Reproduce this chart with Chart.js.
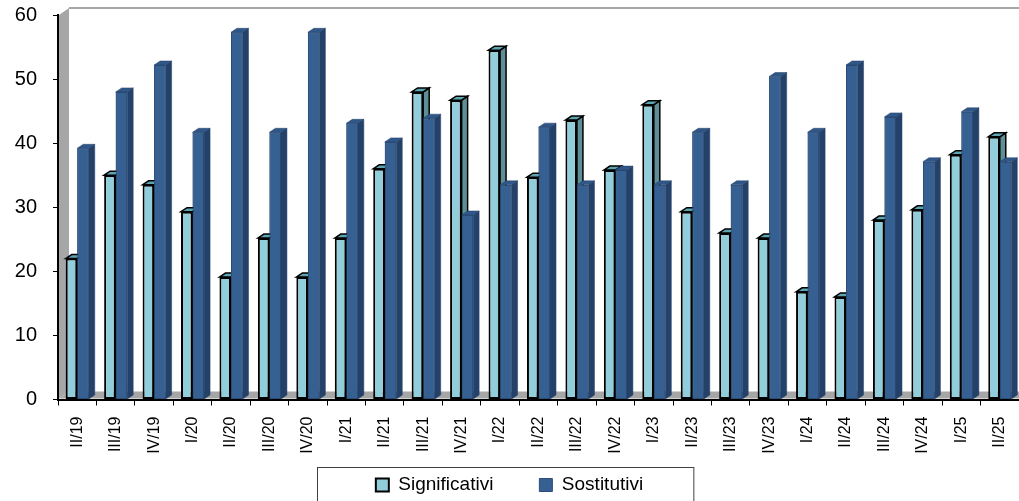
<!DOCTYPE html>
<html>
<head>
<meta charset="utf-8">
<script src="https://cdn.jsdelivr.net/npm/chart.js@4/dist/chart.umd.min.js"></script>
<style>
  html, body { margin: 0; padding: 0; background: #fff; }
  #wrap { width: 1019px; height: 501px; }
</style>
</head>
<body>
<div id="wrap"><canvas id="chart"></canvas></div>
<script>
// quarters
const labels = ['II/19', 'III/19', 'IV/19', 'I/20', 'II/20', 'III/20', 'IV/20', 'I/21', 'II/21', 'III/21',
  'IV/21', 'I/22', 'II/22', 'III/22', 'IV/22', 'I/23', 'II/23', 'III/23', 'IV/23', 'I/24',
  'II/24', 'III/24', 'IV/24', 'I/25', 'II/25'];
const significativi = [22, 35, 33.5, 29.3, 19.1, 25.2, 19.1, 25.2, 36, 48,
  46.7, 54.5, 34.7, 43.6, 35.8, 46, 29.3, 26, 25.2, 16.8,
  16, 28, 29.6, 38.2, 41];
const sostitutivi = [39.2, 48, 52.2, 41.7, 57.3, 41.7, 57.3, 43.1, 40.2, 43.9,
  28.8, 33.5, 42.5, 33.5, 35.8, 33.5, 41.7, 33.5, 50.4, 41.7,
  52.2, 44.1, 37.1, 44.9, 37.1];
const yMin = 0, yMax = 60, yStep = 10;

const font = 'Arial, "Liberation Sans", sans-serif';
const legendPad = 46;

// side + top faces so the bars look like the excel 3d columns
const faces = [
  { side: '#5e8f96', top: '#5ea3b0', stroke: '#000', lw: 1.5 },
  { side: '#24416a', top: '#2f5788', stroke: '#24416a', lw: 0.5 }
];
const dx = 6, dy = 4;

function poly(ctx, pts, fill, stroke, lw) {
  ctx.beginPath();
  ctx.moveTo(pts[0][0], pts[0][1]);
  for (let k = 1; k < pts.length; k++) ctx.lineTo(pts[k][0], pts[k][1]);
  ctx.closePath();
  ctx.fillStyle = fill;
  ctx.fill();
  ctx.lineWidth = lw;
  ctx.strokeStyle = stroke;
  ctx.stroke();
}

function drawFaces(ctx, el, f) {
  const p = el.getProps(['x', 'y', 'base', 'width'], true);
  const l = p.x - p.width / 2, r = p.x + p.width / 2;
  poly(ctx, [[r, p.y], [r + dx, p.y - dy], [r + dx, p.base - dy], [r, p.base]], f.side, f.stroke, f.lw);
  poly(ctx, [[l, p.y], [l + dx, p.y - dy], [r + dx, p.y - dy], [r, p.y]], f.top, f.stroke, f.lw);
}

const bars3d = {
  id: 'bars3d',
  afterLayout(chart) {
    // pull the legend up, it sits closer to the axis labels than chart.js wants
    chart.legend.top -= 30;
    chart.legend.bottom -= 30;
  },
  beforeDatasetsDraw(chart) {
    const {ctx, chartArea: a} = chart;
    ctx.save();
    ctx.fillStyle = '#a6a6a6';
    // back wall on the left
    ctx.beginPath();
    ctx.moveTo(a.left + 1, a.bottom - 1);
    ctx.lineTo(a.left + 1, a.top);
    ctx.lineTo(a.left + 11, a.top - 7);
    ctx.lineTo(a.left + 11, a.bottom - 8);
    ctx.closePath();
    ctx.fill();
    // floor
    ctx.beginPath();
    ctx.moveTo(a.left + 1, a.bottom - 1);
    ctx.lineTo(a.left + 11, a.bottom - 8);
    ctx.lineTo(a.right + 10, a.bottom - 8);
    ctx.lineTo(a.right, a.bottom - 1);
    ctx.closePath();
    ctx.fill();
    // top edge of back wall
    ctx.strokeStyle = '#a6a6a6';
    ctx.lineWidth = 2;
    ctx.beginPath();
    ctx.moveTo(a.left + 11, a.top - 7);
    ctx.lineTo(a.right + 10, a.top - 7);
    ctx.stroke();
    ctx.restore();
  },
  afterDatasetsDraw(chart) {
    const ctx = chart.ctx;
    const m0 = chart.getDatasetMeta(0), m1 = chart.getDatasetMeta(1);
    ctx.save();
    for (let i = 0; i < labels.length; i++) {
      drawFaces(ctx, m0.data[i], faces[0]);
      m1.data[i].draw(ctx);
      drawFaces(ctx, m1.data[i], faces[1]);
    }
    ctx.restore();
  },
  afterDraw(chart) {
    const lg = chart.legend;
    const hb = lg.legendHitBoxes;
    if (!hb || !hb.length) return;
    const ctx = chart.ctx;
    const last = hb[hb.length - 1];
    const x0 = hb[0].left - 59, x1 = last.left + last.width + 50;
    const y0 = lg.top + legendPad + 9.5 - 18;
    ctx.save();
    ctx.strokeStyle = '#404040';
    ctx.lineWidth = 1;
    ctx.strokeRect(Math.round(x0) + 0.5, Math.round(y0) + 0.5, x1 - x0, 40);
    ctx.restore();
  }
};

new Chart(document.getElementById('chart').getContext('2d'), {
  type: 'bar',
  data: {
    labels: labels,
    datasets: [{
      label: 'Significativi',
      data: significativi,
      backgroundColor: '#92cddc',
      borderColor: '#000',
      borderWidth: 2,
      borderSkipped: false,
      categoryPercentage: 0.6,
      barPercentage: 1.0
    }, {
      label: 'Sostitutivi',
      data: sostitutivi,
      backgroundColor: '#366092',
      borderColor: '#2c4d75',
      borderWidth: 1,
      borderSkipped: false,
      categoryPercentage: 0.6,
      barPercentage: 1.0
    }]
  },
  options: {
    responsive: true,
    maintainAspectRatio: false,
    animation: false,
    layout: {
      padding: {top: 0, right: 0, bottom: -33.5, left: 0}
    },
    scales: {
      x: {
        offset: true,
        grid: {offset: true, drawOnChartArea: false, color: '#000', tickLength: 6},
        border: {color: '#000', width: 2},
        ticks: {
          autoSkip: false, maxRotation: 90, minRotation: 90,
          color: '#000', padding: 11,
          font: {family: font, size: 16}
        },
        afterFit: s => { s.height = 60; s.paddingLeft = 0; s.paddingRight = 0; }
      },
      y: {
        min: yMin,
        max: yMax,
        grid: {drawOnChartArea: false, color: '#000', tickLength: 5},
        border: {color: '#000', width: 2},
        ticks: {
          stepSize: yStep, color: '#000', padding: 16,
          font: {family: font, size: 20}
        },
        afterFit: s => { s.width = 58; s.paddingTop = 15; }
      }
    },
    plugins: {
      legend: {
        position: 'bottom',
        labels: {
          color: '#000',
          boxWidth: 13,
          boxHeight: 13,
          padding: legendPad,
          font: {family: font, size: 19}
        }
      },
      tooltip: {enabled: false}
    }
  },
  plugins: [bars3d]
});
</script>
</body>
</html>
